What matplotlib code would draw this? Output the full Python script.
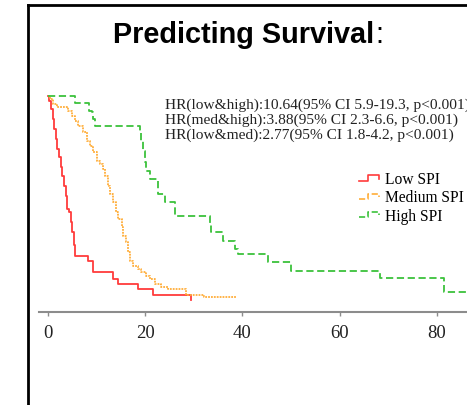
import numpy as np
import matplotlib
matplotlib.use("Agg")
import matplotlib.pyplot as plt
from matplotlib.lines import Line2D
from matplotlib.legend_handler import HandlerBase

# Kaplan-Meier step points (time in months, survival fraction)
low_t = [0, 0.27, 0.55, 0.96, 1.23, 1.64, 1.92, 2.19, 2.60, 2.94, 3.29, 3.63, 3.97, 4.38, 4.65, 5.0, 5.34, 5.54,
         8.3, 9.3, 13.4, 14.4, 18.5, 21.6, 29.4]
low_s = [1.0, 0.977, 0.936, 0.887, 0.838, 0.789, 0.740, 0.699, 0.650, 0.609, 0.560, 0.511, 0.446, 0.430, 0.382, 0.333, 0.268, 0.217,
         0.193, 0.136, 0.103, 0.078, 0.054, 0.025, 0.0]

med_t = [0, 0.41, 1.10, 1.78, 4.18, 4.86, 5.54, 6.23, 7.25, 7.94, 8.62, 9.31, 9.99, 10.68, 11.36, 11.70, 12.39, 12.73,
         13.42, 13.96, 14.44, 15.13, 15.47, 16.15, 16.50, 16.84, 17.52, 18.55, 19.23, 20.26, 20.94, 21.97, 23.34, 24.6,
         28.3, 32.0, 38.6]
med_s = [1.0, 0.985, 0.961, 0.944, 0.928, 0.904, 0.879, 0.855, 0.822, 0.781, 0.757, 0.724, 0.683, 0.667, 0.642, 0.609, 0.560, 0.520,
         0.479, 0.430, 0.397, 0.356, 0.315, 0.283, 0.234, 0.193, 0.168, 0.152, 0.136, 0.119, 0.103, 0.078, 0.062, 0.054,
         0.026, 0.013, 0.013]

high_t = [0, 5.54, 8.49, 8.97, 9.31, 9.65, 18.89, 19.23, 19.58, 19.92, 20.2, 20.94, 22.66, 24.0, 26.2, 33.26, 33.6,
          36.0, 38.4, 39.1, 45.2, 50.0, 68.2, 81.5, 88.0]
high_s = [1.0, 0.966, 0.928, 0.920, 0.887, 0.855, 0.822, 0.781, 0.732, 0.675, 0.634, 0.593, 0.520, 0.479, 0.413, 0.373, 0.332,
          0.291, 0.250, 0.225, 0.185, 0.144, 0.106, 0.038, 0.038]

labels = ["Low SPI", "Medium SPI", "High SPI"]
colors = ["#ff3b3b", "#ffae3a", "#3cc23c"]
styles = ["-", (0, (1, 0.6)), (0, (4, 2))]
xticks = [0, 20, 40, 60, 80]

hr_lines = ["HR(low&high):10.64(95% CI 5.9-19.3, p<0.001)",
            "HR(med&high):3.88(95% CI 2.3-6.6, p<0.001)",
            "HR(low&med):2.77(95% CI 1.8-4.2, p<0.001)"]

W, H = 467, 406
fig = plt.figure(figsize=(W / 100, H / 100), dpi=100)

# axes placed in pixel terms
ax = fig.add_axes([39 / W, (H - 313) / H, (W - 39) / W, 223 / H])
ax.set_xlim(-1.85, 86.2)
ax.set_ylim(-0.0588, 1.034)

handles = []
for t, s, c, ls, lab in zip([low_t, med_t, high_t], [low_s, med_s, high_s], colors, styles, labels):
    h, = ax.step(t, s, where="post", color=c, linestyle=ls, linewidth=1.3, label=lab)
    handles.append(h)

for sp in ["top", "right", "left"]:
    ax.spines[sp].set_visible(False)
ax.spines["bottom"].set_color("#8c8c8c")
ax.spines["bottom"].set_linewidth(1.5)
ax.set_yticks([])
ax.set_xticks(xticks)
ax.tick_params(axis="x", direction="out", length=3, width=1, color="#8c8c8c", pad=6,
               labelsize=13.5, labelcolor="#222222")
for lb in ax.get_xticklabels():
    lb.set_family("Liberation Serif")


class StepHandler(HandlerBase):
    # little step-shaped legend key, like the original
    def create_artists(self, legend, orig_handle, xdescent, ydescent, width, height, fontsize, trans):
        xs = np.array([0, 0.45, 0.45, 1.0, 1.0]) * width - xdescent
        ys = np.array([0.2, 0.2, 0.7, 0.7, 0.4]) * height - ydescent
        ln = Line2D(xs, ys, color=orig_handle.get_color(), linestyle=orig_handle.get_linestyle(),
                    linewidth=1.2, transform=trans)
        return [ln]


leg = ax.legend(handles=handles, handler_map={Line2D: StepHandler()},
                loc="upper left", bbox_to_anchor=(359 / W, 1 - 172 / H), bbox_transform=fig.transFigure,
                frameon=False, prop={"family": "Liberation Serif", "size": 11.2},
                handlelength=1.3, handletextpad=0.4, labelspacing=0.15, borderpad=0, borderaxespad=0)

# HR annotations
for i, txt in enumerate(hr_lines):
    fig.text(165 / W, 1 - (105 + 15 * i) / H, txt, ha="left", va="center",
             family="Liberation Serif", fontsize=11.1, color="#222222")

# title: bold part, then a regular colon right after it
title = fig.text(113 / W, 1 - 43 / H, "Predicting Survival", ha="left", va="baseline",
                 family="Liberation Sans", weight="bold", fontsize=20.8)
fig.canvas.draw()
bb = title.get_window_extent()
fig.text((bb.x1 + 1) / W, 1 - 43 / H, ":", ha="left", va="baseline",
         family="Liberation Sans", fontsize=20.8)

# slide border
fig.add_artist(Line2D([27.5 / W, 1], [1 - 6 / H, 1 - 6 / H], transform=fig.transFigure, color="black", linewidth=2))
fig.add_artist(Line2D([27.5 / W, 27.5 / W], [0, 1 - 6 / H], transform=fig.transFigure, color="black", linewidth=2))

fig.savefig("out.png", dpi=100)
